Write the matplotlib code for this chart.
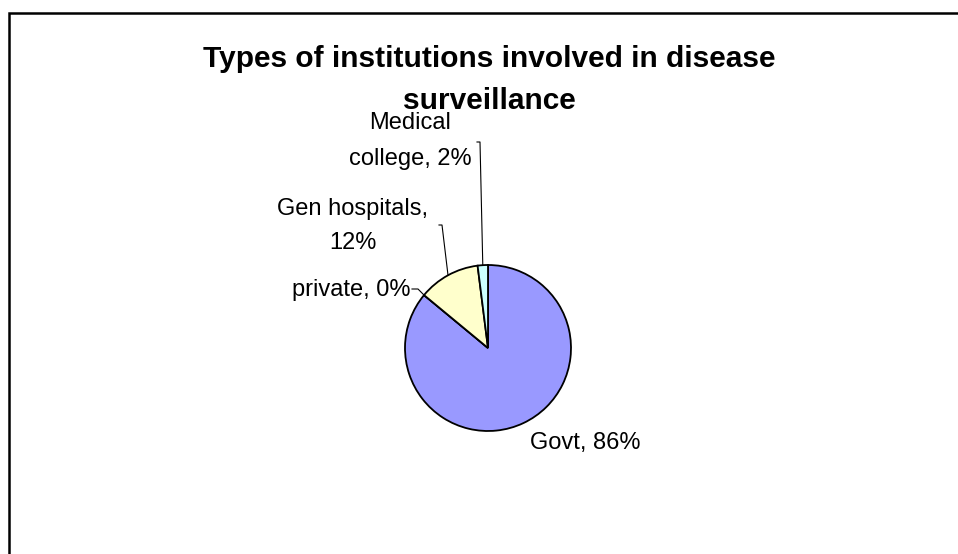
import numpy as np
import matplotlib
matplotlib.use('Agg')
import matplotlib.pyplot as plt
from matplotlib.patches import Rectangle

plt.rcParams['font.family'] = ['Liberation Sans', 'DejaVu Sans']

# share of institutions (%)
categories = ['Govt', 'private', 'Gen hospitals', 'Medical college']
values = [86, 0, 12, 2]
label_text = ['Govt, 86%', 'private, 0%', 'Gen hospitals,\n12%', 'Medical\ncollege, 2%']
colors = ['#9999FF', '#993366', '#FFFFCC', '#CCFFFF']

W, H = 958, 554
fig = plt.figure(figsize=(W / 100, H / 100), dpi=100)
ax = fig.add_axes([0, 0, 1, 1])

# outer frame (right and bottom edges run off the canvas)
ax.add_patch(Rectangle((9, -20), W + 40, H - 13 + 20, fill=False,
                       edgecolor='black', linewidth=1.8, clip_on=False))

cx, cy, r = 488, H - 348, 83
wedges, _ = ax.pie(values, colors=colors, startangle=90, counterclock=False,
                   center=(cx, cy), radius=r, frame=True,
                   wedgeprops=dict(edgecolor='black', linewidth=1.3))
ax.set_xlim(0, W)
ax.set_ylim(0, H)
ax.set_aspect('equal')
ax.axis('off')

def edge_point(w, frac=0.5):
    a = np.deg2rad(w.theta1 + (w.theta2 - w.theta1) * frac)
    return cx + r * np.cos(a), cy + r * np.sin(a)

fs = 17
# Govt
ax.text(585, H - 443, label_text[0], ha='center', va='center', fontsize=fs)
# private
ax.text(411, H - 290, label_text[1], ha='right', va='center', fontsize=fs)
px, py = edge_point(wedges[1])
ax.plot([412, 418, px], [H - 289, H - 289, py], color='black', lw=0.8)
# Gen hospitals
ax.text(353, H - 226, label_text[2], ha='center', va='center', fontsize=fs,
        linespacing=1.7)
gx, gy = edge_point(wedges[2])
ax.plot([439, 442, gx], [H - 225, H - 225, gy], color='black', lw=0.8)
# Medical college
ax.text(410, H - 141, label_text[3], ha='center', va='center', fontsize=fs,
        linespacing=1.85)
mx, my = edge_point(wedges[3])
ax.plot([477, 480, mx], [H - 142, H - 142, my], color='black', lw=0.8)

ax.text(489, H - 80, 'Types of institutions involved in disease\nsurveillance',
        ha='center', va='center', fontsize=21.5, fontweight='bold',
        linespacing=1.65)

fig.savefig('out.png', dpi=100)
